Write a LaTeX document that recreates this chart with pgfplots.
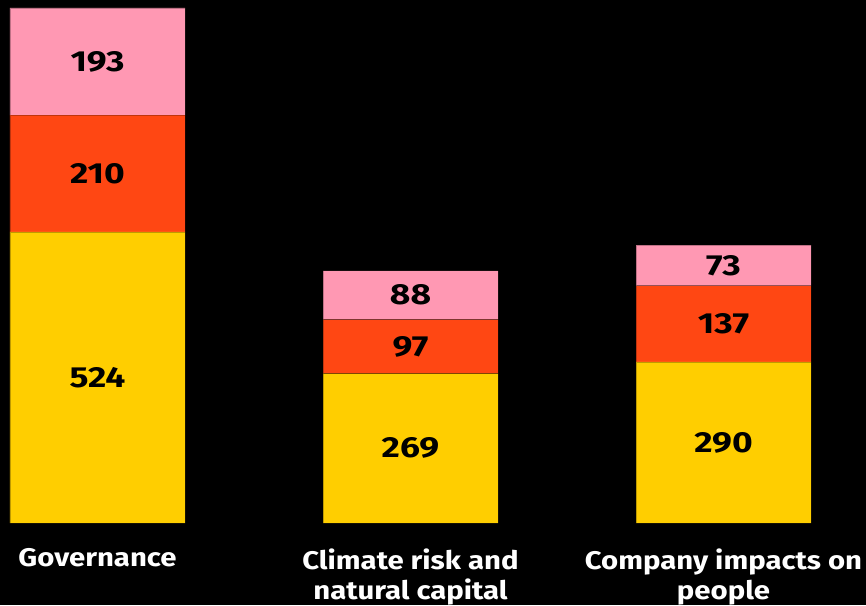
\documentclass[border=0pt]{standalone}
\usepackage{pgfplots}
\pgfplotsset{compat=1.18}
\usepackage{fontspec}
\setmainfont{Fira Sans}
\newfontfamily\catfont{Fira Sans}[FakeStretch=1.15]
\newfontfamily\numfont{Fira Sans}[FakeStretch=1.22]
\definecolor{cpink}{HTML}{FF98B3}
\definecolor{cred}{HTML}{FF4713}
\definecolor{cyellow}{HTML}{FFCE00}
\begin{document}
\begin{tikzpicture}
\begin{axis}[
  at={(0,0)}, anchor=south west,
  scale only axis, width=866pt, height=605pt,
  xmin=-0.3115, xmax=2.4553, ymin=-147.6, ymax=941.4,
  ybar stacked, bar width=175pt,
  axis background/.style={fill=black},
  axis line style={draw=none},
  ytick=\empty,
  xtick={0,1,2},
  xticklabels={Governance, Climate risk and\\natural capital, Company impacts on\\people},
  major tick length=0pt,
  xticklabel style={anchor=north, yshift=56.5pt, align=center, text=white,
    font=\catfont\fontsize{25.5}{30}\selectfont\bfseries, inner sep=0pt},
  visualization depends on={rawy \as \rawy},
  nodes near coords={\pgfmathprintnumber[assume math mode=true]{\rawy}},
  every node near coord/.append style={anchor=center, text=black,
    font=\numfont\fontsize{29}{32}\selectfont\bfseries},
  clip=false,
]
\addplot[fill=cyellow, draw=black, draw opacity=0.25, line width=0.6pt] coordinates {(0,524) (1,269) (2,290)};
\addplot[fill=cred, draw=black, draw opacity=0.25, line width=0.6pt] coordinates {(0,210) (1,97) (2,137)};
\addplot[fill=cpink, draw=black, draw opacity=0.25, line width=0.6pt] coordinates {(0,193) (1,88) (2,73)};
\end{axis}
\pgfresetboundingbox
\path (0,0) rectangle (866pt,605pt);
\end{tikzpicture}
\end{document}
